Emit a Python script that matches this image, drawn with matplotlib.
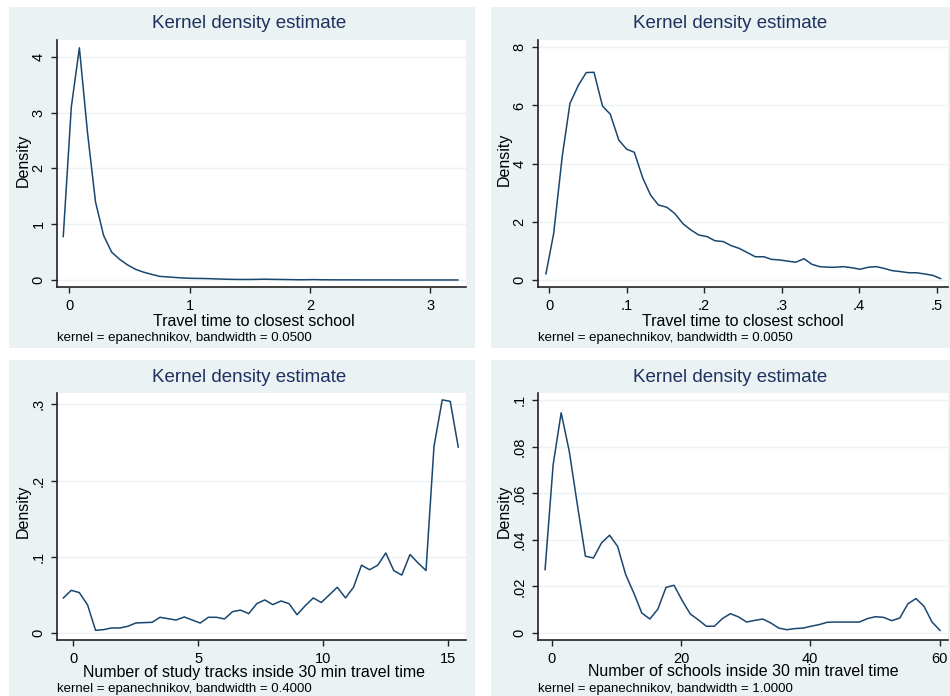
import matplotlib
matplotlib.use("Agg")
import matplotlib.pyplot as plt
from matplotlib.patches import Rectangle

plt.rcParams['font.family'] = ['Liberation Sans', 'DejaVu Sans']

# --- data ---
travel_x = [-0.05, 0.017, 0.084, 0.151, 0.218, 0.285, 0.352, 0.419, 0.485, 0.552,
            0.619, 0.686, 0.753, 0.82, 0.887, 0.954, 1.021, 1.088, 1.155, 1.222,
            1.289, 1.355, 1.422, 1.489, 1.556, 1.623, 1.69, 1.757, 1.824, 1.891,
            1.958, 2.025, 2.092, 2.159, 2.225, 2.292, 2.359, 2.426, 2.493, 2.56,
            2.627, 2.694, 2.761, 2.828, 2.895, 2.962, 3.029, 3.095, 3.162, 3.23]
travel_y = [0.78, 3.1, 4.16, 2.65, 1.4, 0.8, 0.5, 0.37, 0.27, 0.19,
            0.14, 0.10, 0.065, 0.055, 0.045, 0.035, 0.03, 0.028, 0.025, 0.02,
            0.015, 0.012, 0.01, 0.01, 0.012, 0.015, 0.012, 0.01, 0.008, 0.005,
            0.005, 0.008, 0.005, 0.004, 0.003, 0.003, 0.003, 0.002, 0.002, 0.002,
            0.002, 0.002, 0.001, 0.001, 0.001, 0.001, 0.001, 0.001, 0.001, 0.001]

travel_zoom_x = [-0.004, 0.006, 0.017, 0.027, 0.038, 0.048, 0.058, 0.069, 0.079, 0.090,
                 0.100, 0.110, 0.121, 0.131, 0.141, 0.152, 0.162, 0.173, 0.183, 0.193,
                 0.204, 0.214, 0.225, 0.235, 0.245, 0.256, 0.266, 0.277, 0.287, 0.297,
                 0.308, 0.318, 0.329, 0.339, 0.349, 0.360, 0.370, 0.380, 0.391, 0.401,
                 0.412, 0.422, 0.432, 0.443, 0.453, 0.464, 0.474, 0.484, 0.495, 0.505]
travel_zoom_y = [0.21, 1.6, 4.24, 6.07, 6.7, 7.13, 7.14, 5.98, 5.7, 4.81,
                 4.5, 4.39, 3.5, 2.92, 2.58, 2.5, 2.29, 1.93, 1.72, 1.55,
                 1.49, 1.35, 1.32, 1.18, 1.09, 0.94, 0.80, 0.80, 0.71, 0.69,
                 0.65, 0.61, 0.73, 0.54, 0.46, 0.44, 0.44, 0.46, 0.42, 0.37,
                 0.44, 0.46, 0.40, 0.32, 0.29, 0.25, 0.25, 0.21, 0.16, 0.05]

tracks_x = [-0.40, -0.08, 0.24, 0.57, 0.89, 1.21, 1.53, 1.86, 2.18, 2.50,
            2.82, 3.15, 3.47, 3.79, 4.11, 4.44, 4.76, 5.08, 5.40, 5.73,
            6.05, 6.37, 6.69, 7.02, 7.34, 7.66, 7.98, 8.31, 8.63, 8.95,
            9.27, 9.60, 9.92, 10.24, 10.56, 10.89, 11.21, 11.53, 11.85, 12.18,
            12.50, 12.82, 13.14, 13.47, 13.79, 14.11, 14.43, 14.76, 15.08, 15.40]
tracks_y = [0.046, 0.056, 0.053, 0.037, 0.0035, 0.0044, 0.0066, 0.0066, 0.0088, 0.0131,
            0.0136, 0.014, 0.0206, 0.0188, 0.017, 0.021, 0.017, 0.013, 0.0206, 0.0206,
            0.0184, 0.028, 0.030, 0.0254, 0.0385, 0.0434, 0.0372, 0.042, 0.0385, 0.024,
            0.0355, 0.046, 0.040, 0.050, 0.060, 0.046, 0.060, 0.089, 0.083, 0.089,
            0.105, 0.082, 0.076, 0.103, 0.092, 0.082, 0.245, 0.306, 0.304, 0.244]

schools_x = [-1.03, 0.22, 1.46, 2.71, 3.96, 5.21, 6.45, 7.70, 8.95, 10.19,
             11.44, 12.69, 13.93, 15.18, 16.43, 17.68, 18.92, 20.17, 21.42, 22.66,
             23.91, 25.16, 26.40, 27.65, 28.90, 30.15, 31.39, 32.64, 33.89, 35.13,
             36.38, 37.63, 38.87, 40.12, 41.37, 42.62, 43.86, 45.11, 46.36, 47.60,
             48.85, 50.10, 51.34, 52.59, 53.84, 55.09, 56.33, 57.58, 58.83, 60.07]
schools_y = [0.0272, 0.0723, 0.0946, 0.0781, 0.0552, 0.033, 0.0322, 0.0387, 0.042, 0.0372,
             0.0251, 0.0172, 0.0086, 0.006, 0.0103, 0.0196, 0.0205, 0.014, 0.0082, 0.0057,
             0.0029, 0.0029, 0.0062, 0.0083, 0.0069, 0.0047, 0.0054, 0.006, 0.0043, 0.0021,
             0.0014, 0.0019, 0.0021, 0.0029, 0.0036, 0.0046, 0.0047, 0.0047, 0.0047, 0.0047,
             0.0062, 0.007, 0.0067, 0.0053, 0.0064, 0.0125, 0.0148, 0.0115, 0.0047, 0.0011]

# tick values and labels (Stata style, no leading zero)
p1_xticks, p1_xlabels = [0, 1, 2, 3], ['0', '1', '2', '3']
p1_yticks, p1_ylabels = [0, 1, 2, 3, 4], ['0', '1', '2', '3', '4']
p2_xticks, p2_xlabels = [0, .1, .2, .3, .4, .5], ['0', '.1', '.2', '.3', '.4', '.5']
p2_yticks, p2_ylabels = [0, 2, 4, 6, 8], ['0', '2', '4', '6', '8']
p3_xticks, p3_xlabels = [0, 5, 10, 15], ['0', '5', '10', '15']
p3_yticks, p3_ylabels = [0, .1, .2, .3], ['0', '.1', '.2', '.3']
p4_xticks, p4_xlabels = [0, 20, 40, 60], ['0', '20', '40', '60']
p4_yticks, p4_ylabels = [0, .02, .04, .06, .08, .1], ['0', '.02', '.04', '.06', '.08', '.1']

xtitles = ['Travel time to closest school', 'Travel time to closest school',
           'Number of study tracks inside 30 min travel time',
           'Number of schools inside 30 min travel time']
notes = ['kernel = epanechnikov, bandwidth = 0.0500',
         'kernel = epanechnikov, bandwidth = 0.0050',
         'kernel = epanechnikov, bandwidth = 0.4000',
         'kernel = epanechnikov, bandwidth = 1.0000']

W, H = 950, 696
BG = '#EAF2F3'
LINE = '#1A476F'
TITLE = '#1E3160'

fig = plt.figure(figsize=(W / 100, H / 100), dpi=100)
fig.patch.set_facecolor('white')


def fx(px):
    return px / W


def fy(py):
    return 1 - py / H


def panel(bg, box, xlim, ylim, x, y, xt, xl, yt, yl, xtitle, note, title_x,
          xtitle_pos, ytitle_pos, note_y):
    bl, bt, br, bb = bg
    fig.patches.append(Rectangle((fx(bl), fy(bb)), (br - bl) / W, (bb - bt) / H,
                                 transform=fig.transFigure, facecolor=BG,
                                 edgecolor='none', zorder=-10))
    left, top, right, bottom = box
    ax = fig.add_axes([fx(left), fy(bottom), (right - left) / W, (bottom - top) / H])
    ax.set_zorder(1)
    ax.set_facecolor('white')
    ax.plot(x, y, color=LINE, lw=1.1, zorder=3)
    ax.set_xlim(*xlim)
    ax.set_ylim(*ylim)
    ax.set_xticks(xt)
    ax.set_xticklabels(xl, fontsize=10.5)
    ax.set_yticks(yt)
    ax.set_yticklabels(yl, fontsize=10.5, rotation=90, va='center')
    for s in ['top', 'right']:
        ax.spines[s].set_visible(False)
    for s in ['left', 'bottom']:
        ax.spines[s].set_color('#222222')
        ax.spines[s].set_linewidth(1.2)
    ax.tick_params(direction='out', length=4.3, width=1, color='#222222', pad=4)
    ax.yaxis.grid(True, color=BG, lw=1.0)
    ax.set_axisbelow(True)
    fig.text(fx(ytitle_pos[0]), fy(ytitle_pos[1]), 'Density', fontsize=11.5,
             rotation=90, ha='center', va='center')
    fig.text(fx(xtitle_pos[0]), fy(xtitle_pos[1]), xtitle, fontsize=11.5,
             ha='center', va='center')
    fig.text(fx(title_x), fy(bt + 17), 'Kernel density estimate', fontsize=13.5,
             color=TITLE, ha='center', va='center')
    fig.text(fx(left), fy(note_y), note, fontsize=9.5, ha='left', va='center')
    return ax


panel((9, 7, 475, 348), (57, 40, 466, 287), (-0.102, 3.297), (-0.125, 4.30),
      travel_x, travel_y, p1_xticks, p1_xlabels, p1_yticks, p1_ylabels,
      xtitles[0], notes[0], 249, (254, 321), (23, 160), 338)
panel((491, 7, 950, 348), (537.7, 40, 948, 287), (-0.0146, 0.5146), (-0.24, 8.25),
      travel_zoom_x, travel_zoom_y, p2_xticks, p2_xlabels, p2_yticks, p2_ylabels,
      xtitles[1], notes[1], 730, (743, 321), (504, 159), 338)
panel((9, 360, 475, 696), (56.7, 393, 466, 640.3), (-0.664, 15.71), (-0.0096, 0.315),
      tracks_x, tracks_y, p3_xticks, p3_xlabels, p3_yticks, p3_ylabels,
      xtitles[2], notes[2], 249, (254, 672), (23, 511), 689)
panel((491, 360, 950, 696), (537.7, 393, 948, 640.3), (-2.17, 61.3), (-0.00314, 0.1031),
      schools_x, schools_y, p4_xticks, p4_xlabels, p4_yticks, p4_ylabels,
      xtitles[3], notes[3], 730, (743, 672), (504, 511), 689)

fig.savefig('out.png', dpi=100, facecolor='white')
